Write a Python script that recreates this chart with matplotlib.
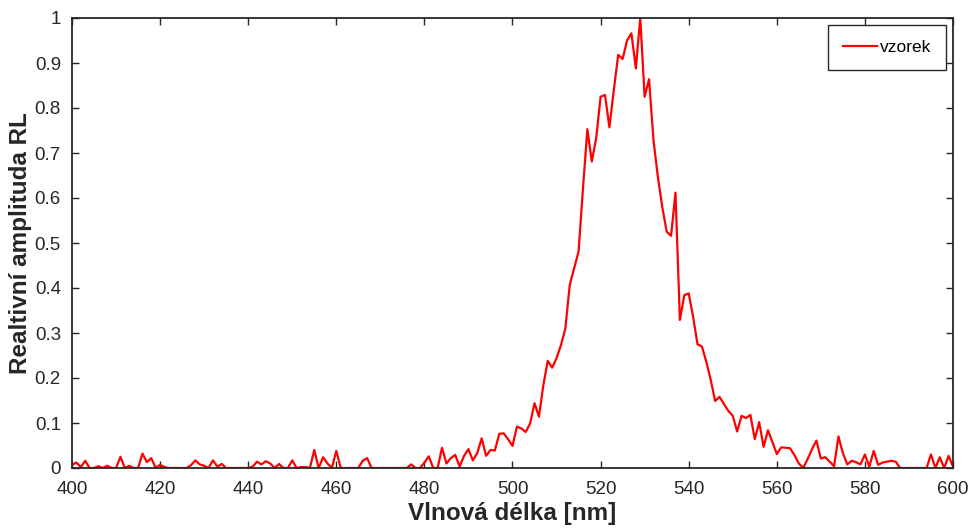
import numpy as np
import matplotlib
matplotlib.use("Agg")
import matplotlib.pyplot as plt
from matplotlib.ticker import FuncFormatter

plt.rcParams['font.family'] = ['Liberation Sans', 'DejaVu Sans']

wavelength = np.arange(400, 601, 1)
amplitude = [
    0.007, 0.012, 0.002, 0.016, 0.0, 0.0, 0.004, 0.0, 0.005, 0.0,      # 400-409
    0.0, 0.025, 0.0, 0.005, 0.0, 0.0, 0.032, 0.013, 0.022, 0.0,        # 410-419
    0.007, 0.002, 0.0, 0.0, 0.0, 0.0, 0.0, 0.006, 0.017, 0.008,        # 420-429
    0.005, 0.0, 0.017, 0.003, 0.009, 0.0, 0.0, 0.0, 0.0, 0.0,          # 430-439
    0.0, 0.003, 0.014, 0.008, 0.015, 0.010, 0.0, 0.009, 0.0, 0.0,      # 440-449
    0.017, 0.0, 0.002, 0.002, 0.0, 0.040, 0.0, 0.024, 0.010, 0.0,      # 450-459
    0.038, 0.0, 0.0, 0.0, 0.0, 0.0, 0.016, 0.022, 0.0, 0.0,            # 460-469
    0.0, 0.0, 0.0, 0.0, 0.0, 0.0, 0.0, 0.008, 0.0, 0.0,                # 470-479
    0.012, 0.026, 0.0, 0.0, 0.045, 0.010, 0.022, 0.029, 0.003, 0.027,  # 480-489
    0.042, 0.017, 0.033, 0.066, 0.027, 0.040, 0.039, 0.076, 0.077, 0.064,  # 490-499
    0.049, 0.092, 0.088, 0.080, 0.099, 0.144, 0.114, 0.184, 0.238, 0.223,  # 500-509
    0.244, 0.273, 0.310, 0.407, 0.444, 0.481, 0.621, 0.753, 0.681, 0.733,  # 510-519
    0.825, 0.829, 0.757, 0.840, 0.918, 0.909, 0.950, 0.966, 0.888, 1.000,  # 520-529
    0.825, 0.864, 0.729, 0.647, 0.580, 0.525, 0.516, 0.612, 0.329, 0.384,  # 530-539
    0.388, 0.336, 0.275, 0.270, 0.236, 0.196, 0.149, 0.158, 0.142, 0.127,  # 540-549
    0.116, 0.081, 0.116, 0.111, 0.118, 0.064, 0.102, 0.047, 0.084, 0.058,  # 550-559
    0.031, 0.046, 0.045, 0.044, 0.029, 0.010, 0.0, 0.020, 0.042, 0.061,    # 560-569
    0.021, 0.024, 0.014, 0.004, 0.070, 0.033, 0.008, 0.016, 0.013, 0.008,  # 570-579
    0.030, 0.003, 0.038, 0.007, 0.012, 0.014, 0.016, 0.014, 0.0, 0.0,      # 580-589
    0.0, 0.0, 0.0, 0.0, 0.0, 0.030, 0.0, 0.024, 0.0, 0.027,                # 590-599
    0.003,                                                                 # 600
]

x_ticks = list(range(400, 601, 20))
y_ticks = [round(0.1 * i, 1) for i in range(11)]
series_label = "vzorek"
x_label = "Vlnová délka [nm]"
y_label = "Realtivní amplituda RL"

W, H = 971, 529
fig = plt.figure(figsize=(W / 100, H / 100), dpi=100)
ax = fig.add_axes([72 / W, 1 - 468 / H, (953 - 72) / W, (468 - 18) / H])

ax.plot(wavelength, amplitude, color='#ff0000', linewidth=1.6, label=series_label)

ax.set_xlim(400, 600)
ax.set_ylim(0, 1)
ax.set_xticks(x_ticks)
ax.set_yticks(y_ticks)
ax.yaxis.set_major_formatter(FuncFormatter(lambda v, p: ('%g' % round(v, 2))))

tc = '#262626'
for s in ax.spines.values():
    s.set_color(tc)
    s.set_linewidth(1.3)
ax.tick_params(direction='in', length=5, width=1.0, color=tc, labelcolor=tc,
               labelsize=13.5, top=True, right=True)
ax.tick_params(axis='x', pad=9)
ax.tick_params(axis='y', pad=8)

ax.set_xlabel(x_label, fontsize=17.5, fontweight='bold', color=tc, labelpad=3)
ax.set_ylabel(y_label, fontsize=17.5, fontweight='bold', color=tc, labelpad=2)

leg = ax.legend(loc='upper right', bbox_to_anchor=(946 / W, 1 - 25 / H),
                bbox_transform=fig.transFigure, borderaxespad=0,
                fancybox=False, framealpha=1, edgecolor=tc, fontsize=12.5,
                handlelength=2.0, handletextpad=0.15, borderpad=0.85)
leg.get_frame().set_linewidth(1.0)

fig.savefig("out.png", dpi=100)
